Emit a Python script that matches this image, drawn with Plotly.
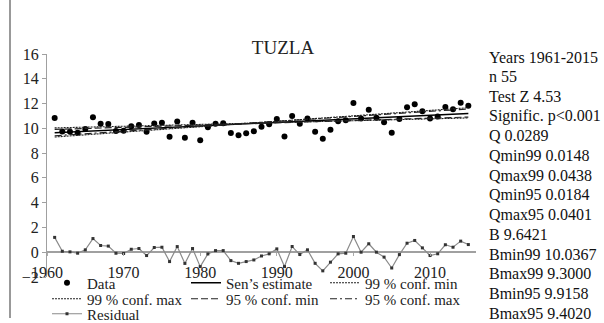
import plotly.graph_objects as go

years = list(range(1961, 2016))
values = [10.84, 9.75, 9.73, 9.65, 9.95, 10.89, 10.36, 10.34, 9.79, 9.80,
          10.17, 10.26, 9.72, 10.40, 10.45, 9.32, 10.56, 9.23, 10.46, 9.03,
          10.08, 10.38, 10.41, 9.63, 9.44, 9.61, 9.77, 10.12, 10.32, 10.75,
          9.35, 11.00, 10.38, 10.79, 9.73, 9.15, 9.88, 10.58, 10.66, 12.04,
          10.80, 11.51, 10.86, 10.49, 9.64, 10.75, 11.70, 11.95, 11.38, 10.79,
          10.96, 11.72, 11.55, 12.07, 11.82]

Q, B = 0.0289, 9.6421
Qmin99, Bmin99 = 0.0148, 10.0367
Qmax99, Bmax99 = 0.0438, 9.3000
Qmin95, Bmin95 = 0.0184, 9.9158
Qmax95, Bmax95 = 0.0401, 9.4020

stats_lines = ["Years 1961-2015", "n 55", "Test Z 4.53", "Signific. p<0.001",
               "Q 0.0289", "Qmin99 0.0148", "Qmax99 0.0438", "Qmin95 0.0184",
               "Qmax95 0.0401", "B 9.6421", "Bmin99 10.0367", "Bmax99 9.3000",
               "Bmin95 9.9158", "Bmax95 9.4020"]

x_ticks = [1960, 1970, 1980, 1990, 2000, 2010]
y_ticks = list(range(-2, 17, 2))

def trend(q, b):
    return [q * (y - years[0]) + b for y in years]

sen = trend(Q, B)
resid = [v - s for v, s in zip(values, sen)]

FONT = "Liberation Serif"
fig = go.Figure()
fig.add_trace(go.Scatter(x=years, y=values, mode="markers", name="Data", legend="legend",
                         marker=dict(color="black", size=6)))
fig.add_trace(go.Scatter(x=years, y=sen, mode="lines", name="Sen’s estimate", legend="legend",
                         line=dict(color="black", width=1.4)))
fig.add_trace(go.Scatter(x=years, y=trend(Qmin99, Bmin99), mode="lines", name="99 % conf. min",
                         legend="legend", line=dict(color="#222", width=1.1, dash="2px,1px")))
fig.add_trace(go.Scatter(x=years, y=trend(Qmax99, Bmax99), mode="lines", name="99 % conf. max",
                         legend="legend2", line=dict(color="#222", width=1.1, dash="2px,1px")))
fig.add_trace(go.Scatter(x=years, y=trend(Qmin95, Bmin95), mode="lines", name="95 % conf. min",
                         legend="legend2", line=dict(color="#222", width=1.2, dash="7px,3px")))
fig.add_trace(go.Scatter(x=years, y=trend(Qmax95, Bmax95), mode="lines", name="95 % conf. max",
                         legend="legend2", line=dict(color="#222", width=1.2, dash="7px,3px,2px,3px")))
fig.add_trace(go.Scatter(x=years, y=resid, mode="lines+markers", name="Residual", legend="legend3",
                         line=dict(color="#8a8a8a", width=1.2),
                         marker=dict(symbol="square", size=3, color="#333")))

L, R, T, Bm = 47, 128, 54, 46
W, H = 604, 323
pw, ph = W - L - R, H - T - Bm

def py(ypx):
    return (H - Bm - ypx) / ph

ann = []
for i, s in enumerate(stats_lines):
    ypx = 57 + i * 19.7
    ann.append(dict(text=s, xref="paper", yref="paper", x=(487 - L) / pw,
                    y=py(ypx), xanchor="left", yanchor="middle",
                    showarrow=False, font=dict(family=FONT, size=16, color="#111")))

def leg(ypx):
    return dict(orientation="h", x=0.0, xanchor="left", y=py(ypx), yanchor="middle",
                entrywidth=94, entrywidthmode="pixels", bgcolor="rgba(0,0,0,0)",
                font=dict(family=FONT, size=15, color="#222"), itemwidth=30,
                borderwidth=0)

fig.update_layout(
    width=W, height=H, margin=dict(l=L, r=R, t=T, b=Bm, autoexpand=False),
    paper_bgcolor="white", plot_bgcolor="white",
    font=dict(family=FONT, size=15, color="#222"),
    title=dict(text="TUZLA", x=(283 - L) / pw, xref="paper", xanchor="center",
               y=1 - 47 / H, yanchor="middle", font=dict(family=FONT, size=19, color="#222")),
    showlegend=True,
    legend=leg(283), legend2=leg(299), legend3=leg(314),
    annotations=ann,
    shapes=[dict(type="line", xref="paper", yref="paper", x0=(10 - L) / pw, x1=(10 - L) / pw,
                 y0=py(0), y1=py(318), line=dict(color="#999", width=2))],
)
fig.update_xaxes(range=[1960, 2016], tickvals=x_ticks, anchor="free", position=2 / 18,
                 showgrid=False, zeroline=False, showline=False,
                 ticks="outside", ticklen=3, tickcolor="#aaa", ticklabelstandoff=3,
                 tickfont=dict(family=FONT, size=16, color="#222"))
fig.update_yaxes(range=[-2, 16], tickvals=y_ticks, showgrid=False,
                 zeroline=True, zerolinecolor="#a0a0a0", zerolinewidth=1.5,
                 showline=True, linecolor="#a0a0a0", linewidth=1,
                 ticks="outside", ticklen=4, tickcolor="#a0a0a0",
                 tickfont=dict(family=FONT, size=16, color="#222"))

fig.write_html("out.html")
